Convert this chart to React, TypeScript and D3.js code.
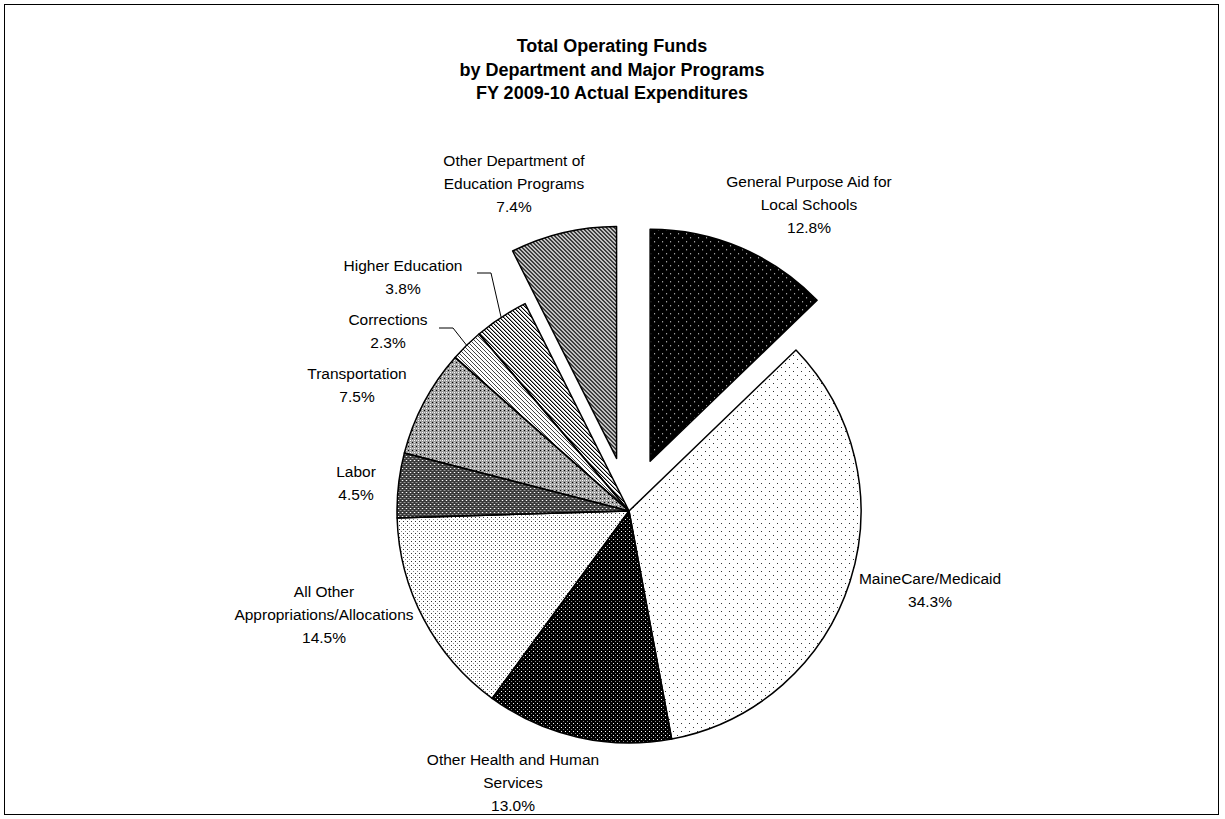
import React from "react";
import * as d3 from "d3";

const categories = [
  "General Purpose Aid for|Local Schools",
  "MaineCare/Medicaid",
  "Other Health and Human|Services",
  "All Other|Appropriations/Allocations",
  "Labor",
  "Transportation",
  "Corrections",
  "Higher Education",
  "Other Department of|Education Programs",
];
const values = [12.8, 34.3, 13.0, 14.5, 4.5, 7.5, 2.3, 3.8, 7.4];
const exploded = [true, false, false, false, false, false, false, false, true];
const titleLines = [
  "Total Operating Funds",
  "by Department and Major Programs",
  "FY 2009-10 Actual Expenditures",
];

// layout (label block centers relative to the pie centre)
const LABEL_OFFSETS: [number, number][] = [
  [180, -307],
  [301, 78],
  [-116, 271],
  [-305, 103],
  [-273, -29],
  [-272, -127],
  [-241, -181],
  [-226, -235],
  [-115, -328],
];
// leader lines: [startX offset from label center, y offset] or null
const LEADERS: ([number, number] | null)[] = [
  null, null, null, null, null, null, [51, -2], [74, -3], null,
];

const W = 1225;
const H = 819;
const CX = 629;
const CY = 511;
const R = 232;
const EXPLODE = 54;
const FONT = "Arial, 'Liberation Sans', Helvetica, sans-serif";
const LINE_H = 23;

type TileFn = (x: number, y: number) => string | null;
const tiles: { id: string; size: number; bg: string; fn: TileFn }[] = [
  // General purpose aid: black with sparse white dots
  { id: "p0", size: 8, bg: "#000", fn: (x, y) => ((x === 0 && y === 0) || (x === 4 && y === 4) ? "#fff" : null) },
  // MaineCare: white with sparse dark dots
  { id: "p1", size: 8, bg: "#fff", fn: (x, y) => ((x === 0 && y === 0) || (x === 4 && y === 4) ? "#333" : null) },
  // Other HHS: black with light dots
  { id: "p2", size: 4, bg: "#000", fn: (x, y) => (x === 0 && y === 0 ? "#fff" : x === 2 && y === 2 ? "#888" : null) },
  // All other: white with gray dots
  { id: "p3", size: 4, bg: "#fff", fn: (x, y) => (x === 0 && y === 0 ? "#888" : x === 2 && y === 2 ? "#333" : null) },
  // Labor: dark checker
  { id: "p4", size: 4, bg: "#3a3a3a", fn: (x, y) => (x === 1 && y === 1 ? "#fff" : x === 3 && y === 3 ? "#999" : (x + y) % 2 === 1 && x % 2 === 0 ? "#666" : null) },
  // Transportation: medium gray
  { id: "p5", size: 4, bg: "#9a9a9a", fn: (x, y) => (x === 1 && y === 1 ? "#fff" : x === 3 && y === 3 ? "#000" : (x === 1 && y === 3) || (x === 3 && y === 1) ? "#ddd" : null) },
  // Corrections: light fine downward diagonal
  { id: "p6", size: 4, bg: "#fff", fn: (x, y) => (((x - y + 8) % 4) === 0 ? "#444" : null) },
  // Higher education: downward diagonal
  { id: "p7", size: 4, bg: "#fff", fn: (x, y) => { const k = (x - y + 8) % 4; return k === 0 ? "#000" : k === 1 ? "#999" : null; } },
  // Other Dept of Education: dark downward diagonal
  { id: "p8", size: 4, bg: "#fff", fn: (x, y) => { const k = (x - y + 8) % 4; return k === 0 || k === 1 ? "#000" : null; } },
];

function Tile({ id, size, bg, fn }: { id: string; size: number; bg: string; fn: TileFn }) {
  const px: React.ReactNode[] = [];
  for (let y = 0; y < size; y++) {
    for (let x = 0; x < size; x++) {
      const c = fn(x, y);
      if (c) px.push(<rect key={`${x}-${y}`} x={x} y={y} width={1} height={1} fill={c} />);
    }
  }
  return (
    <pattern id={id} patternUnits="userSpaceOnUse" width={size} height={size}>
      <rect width={size} height={size} fill={bg} />
      {px}
    </pattern>
  );
}

export default function App() {
  const pie = d3
    .pie<number>()
    .sort(null)
    .value((d) => d)
    .startAngle(0)
    .endAngle(2 * Math.PI);
  const arcs = pie(values);
  const arcGen = d3.arc<d3.PieArcDatum<number>>().innerRadius(0).outerRadius(R);

  return (
    <svg
      width={W}
      height={H}
      style={{ position: "absolute", left: 0, top: 0, display: "block", background: "#fff" }}
    >
      <defs>
        {tiles.map((t) => (
          <Tile key={t.id} {...t} />
        ))}
      </defs>
      <rect x={4.5} y={4.5} width={1214} height={810} fill="#fff" stroke="#000" strokeWidth={1} />
      <g fontFamily={FONT} fontWeight="bold" fontSize={18} textAnchor="middle">
        {titleLines.map((t, i) => (
          <text key={i} x={612} y={52 + i * 23.5}>
            {t}
          </text>
        ))}
      </g>
      <g shapeRendering="crispEdges">
        {arcs.map((a, i) => {
          const mid = (a.startAngle + a.endAngle) / 2;
          const off = exploded[i] ? EXPLODE : 0;
          const dx = Math.sin(mid) * off;
          const dy = -Math.cos(mid) * off;
          return (
            <path
              key={i}
              d={arcGen(a) || ""}
              transform={`translate(${CX + dx},${CY + dy})`}
              fill={`url(#p${i})`}
              stroke="none"
            />
          );
        })}
      </g>
      <g>
        {arcs.map((a, i) => {
          const mid = (a.startAngle + a.endAngle) / 2;
          const off = exploded[i] ? EXPLODE : 0;
          const dx = Math.sin(mid) * off;
          const dy = -Math.cos(mid) * off;
          return (
            <path
              key={i}
              d={arcGen(a) || ""}
              transform={`translate(${CX + dx},${CY + dy})`}
              fill="none"
              stroke="#000"
              strokeWidth={1.5}
              strokeLinejoin="round"
            />
          );
        })}
      </g>
      <g fontFamily={FONT} fontSize={15.5} textAnchor="middle" fill="#000">
        {arcs.map((a, i) => {
          const lines = categories[i].split("|").concat([`${values[i].toFixed(1)}%`]);
          const [ox, oy] = LABEL_OFFSETS[i];
          const lx = CX + ox;
          const ly = CY + oy;
          const y0 = ly - ((lines.length - 1) / 2) * LINE_H;
          return (
            <text key={i} x={lx} y={y0} dominantBaseline="central">
              {lines.map((l, j) => (
                <tspan key={j} x={lx} y={y0 + j * LINE_H} dominantBaseline="central">
                  {l}
                </tspan>
              ))}
            </text>
          );
        })}
      </g>
      <g stroke="#000" strokeWidth={1} fill="none">
        {arcs.map((a, i) => {
          const ld = LEADERS[i];
          if (!ld) return null;
          const mid = (a.startAngle + a.endAngle) / 2;
          const [ox, oy] = LABEL_OFFSETS[i];
          const sx = CX + ox + ld[0];
          const sy = CY + oy + ld[1];
          const ex = CX + Math.sin(mid) * R;
          const ey = CY - Math.cos(mid) * R;
          return <polyline key={i} points={`${sx},${sy} ${sx + 14},${sy} ${ex},${ey}`} />;
        })}
      </g>
    </svg>
  );
}
